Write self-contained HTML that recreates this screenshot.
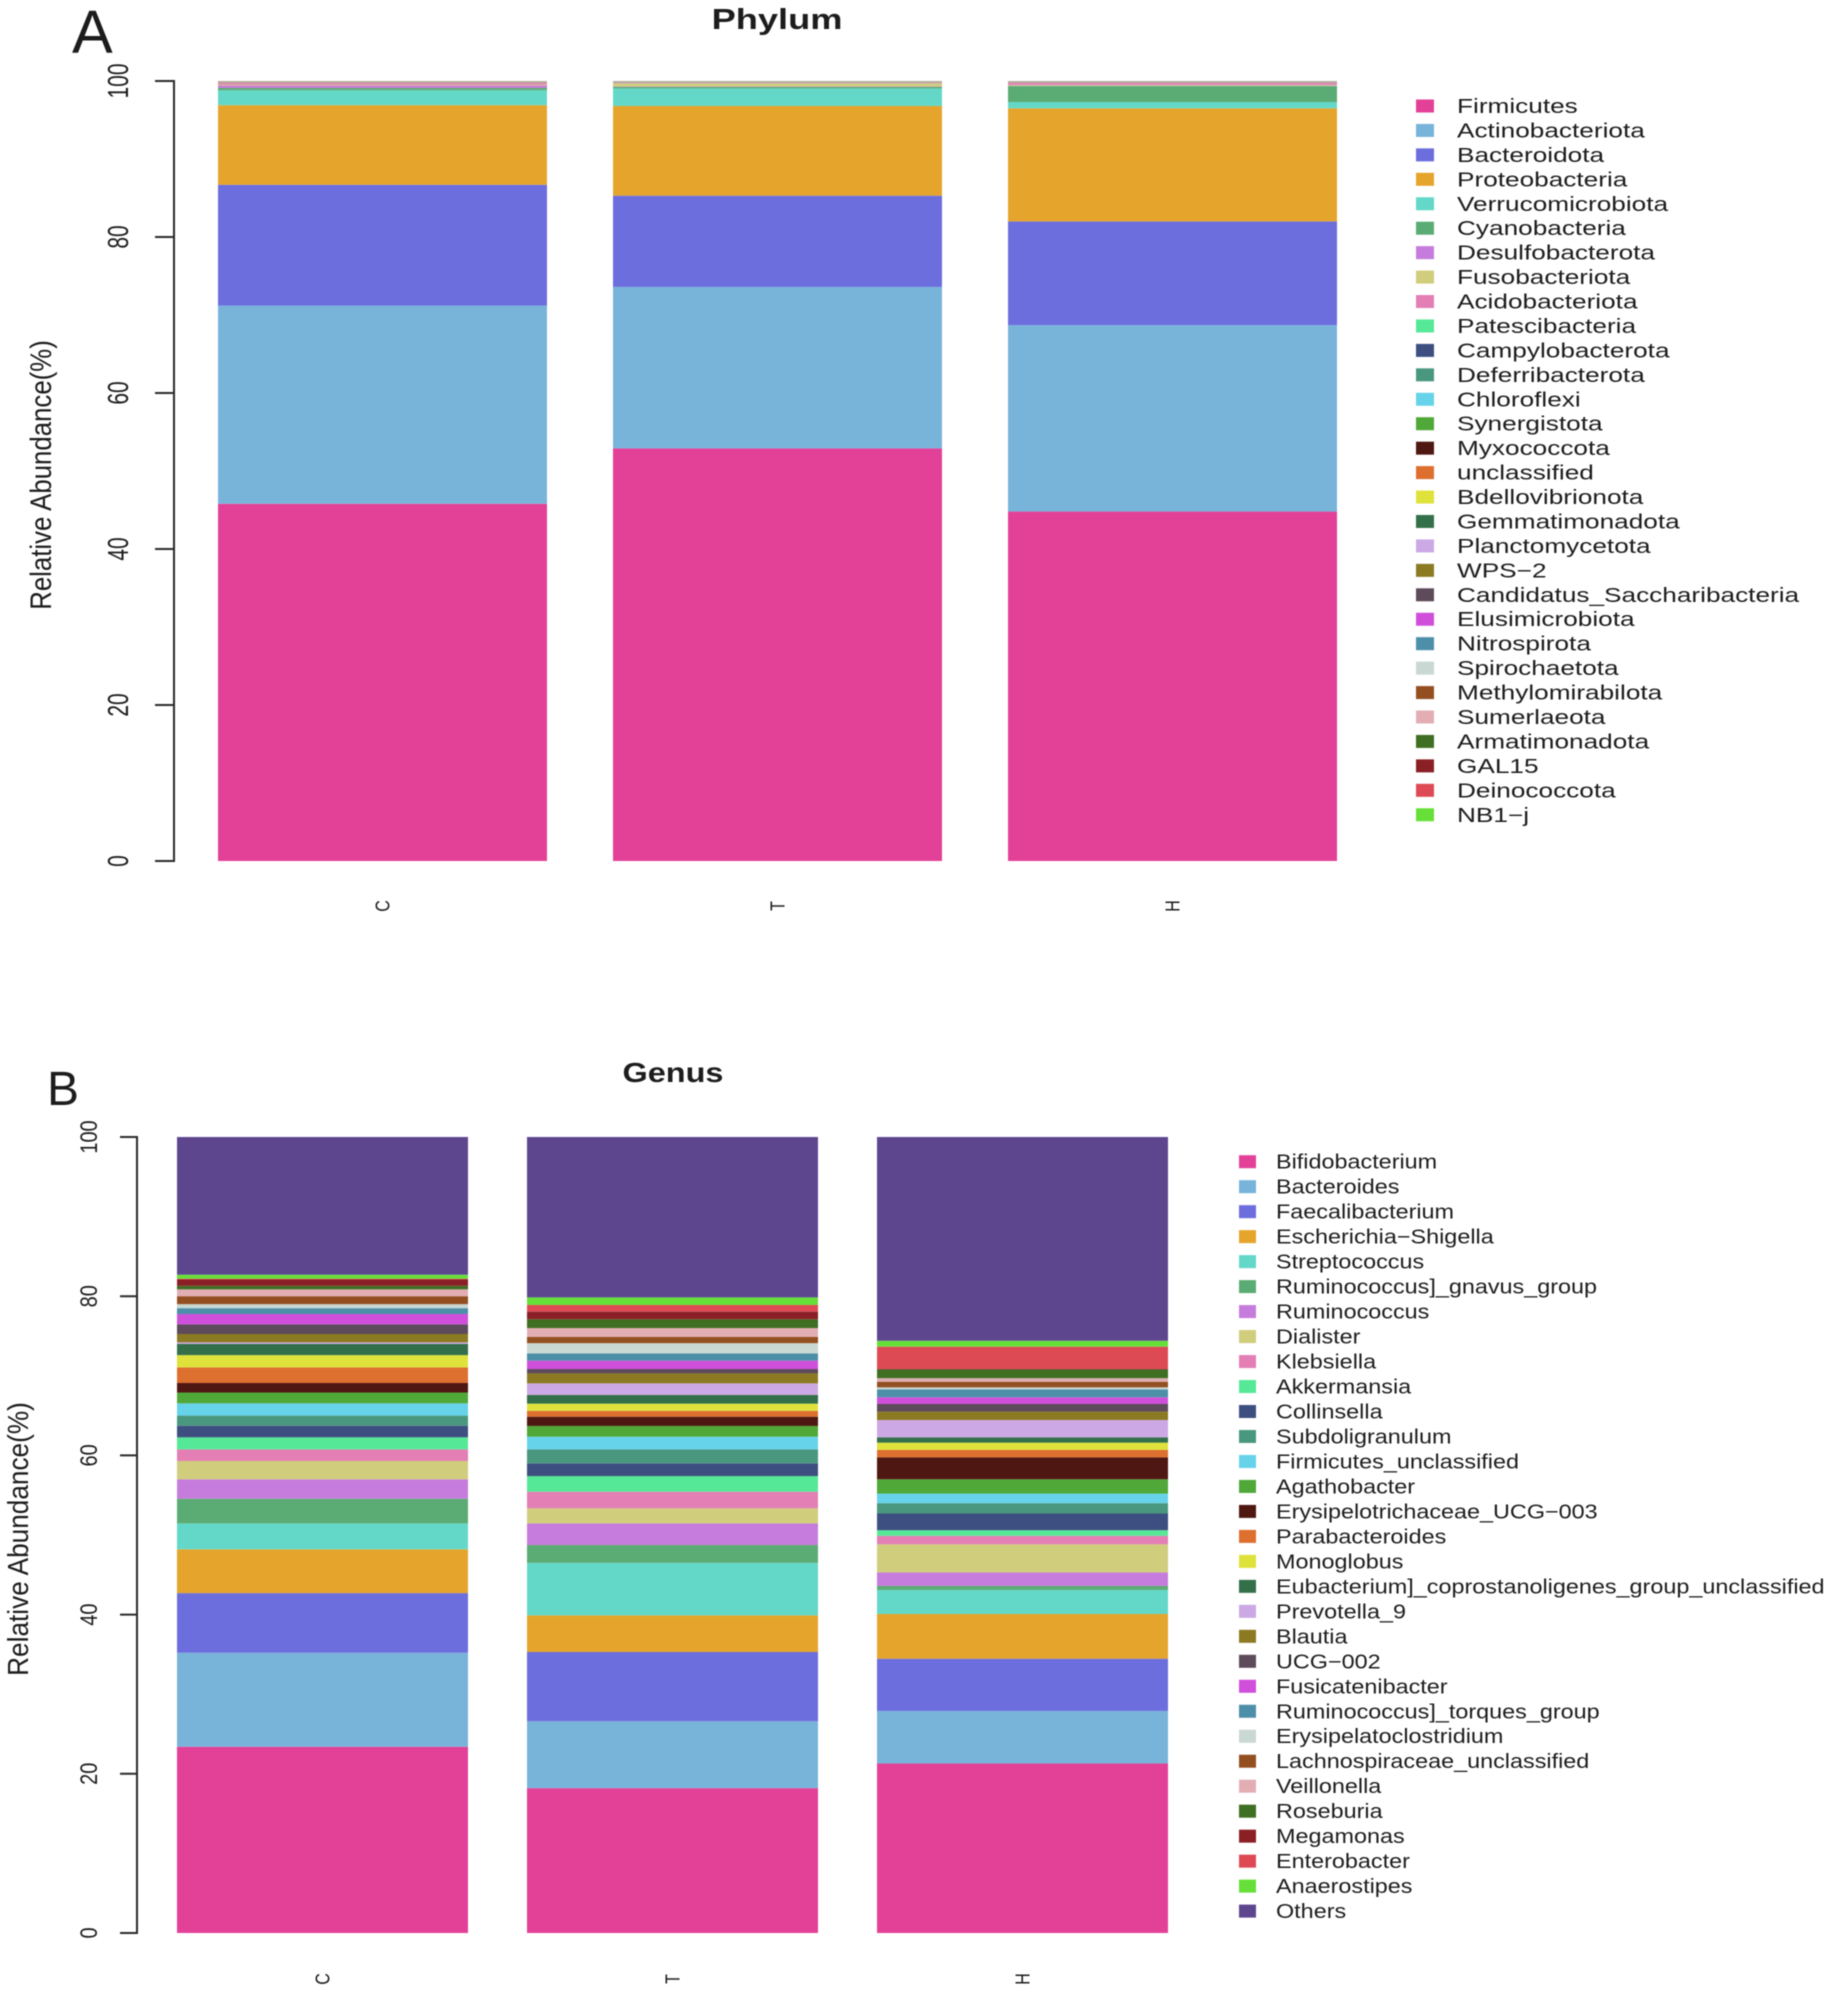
<!DOCTYPE html>
<html lang="en">
<head>
<meta charset="utf-8">
<title>Phylum and Genus relative abundance</title>
<style>
html,body{margin:0;padding:0;background:#fff;width:1831px;height:1991px;overflow:hidden}
svg{display:block;filter:blur(0.6px)}
text{font-family:"Liberation Sans",sans-serif;fill:#1c1c1c}
</style>
</head>
<body>
<svg id="chart" xmlns="http://www.w3.org/2000/svg" width="1831" height="1991" viewBox="0 0 1831 1991">
  <rect x="0" y="0" width="1831" height="1991" fill="#ffffff"/>
  <text x="72" y="53" font-size="61">A</text>
  <text x="47" y="1105" font-size="48">B</text>
  <text transform="translate(777,29) scale(1.25,1)" text-anchor="middle" font-size="29" font-weight="bold">Phylum</text>
  <text transform="translate(673,1082) scale(1.18,1)" text-anchor="middle" font-size="27.5" font-weight="bold">Genus</text>
  <text transform="translate(51,475) rotate(-90) scale(1,1.15)" text-anchor="middle" font-size="25.8">Relative Abundance(%)</text>
  <text transform="translate(28,1539) rotate(-90) scale(1,1.1)" text-anchor="middle" font-size="26.2">Relative Abundance(%)</text>
  <g id="panel-a"></g>
  <g id="panel-b"></g>
</svg>
<script>
const categories = ["C", "T", "H"];
const yTicks = [0, 20, 40, 60, 80, 100];
const palette = ["#e34198","#78b4da","#6d6edd","#e5a52c","#64d8c8","#5bac74","#c67cdc","#d0cd7c","#e37fb5","#55e896","#3d4f80","#4a9780","#66d3ea","#4fa838","#4f1712","#dd6f2f","#dfe23a","#33704a","#cca9e4","#8c7a22","#5d4a5a","#cf4fdb","#4d8fa8","#c9d8d2","#944f21","#e2aeb4","#3f6f22","#8a2026","#dd4a54","#66e038","#5e468f"];

const phylumNames = ["Firmicutes","Actinobacteriota","Bacteroidota","Proteobacteria","Verrucomicrobiota","Cyanobacteria","Desulfobacterota","Fusobacteriota","Acidobacteriota","Patescibacteria","Campylobacterota","Deferribacterota","Chloroflexi","Synergistota","Myxococcota","unclassified","Bdellovibrionota","Gemmatimonadota","Planctomycetota","WPS\u22122","Candidatus_Saccharibacteria","Elusimicrobiota","Nitrospirota","Spirochaetota","Methylomirabilota","Sumerlaeota","Armatimonadota","GAL15","Deinococcota","NB1\u2212j"];
const phylumC = [45.8,25.4,15.5,10.2,1.9,0.3,0.32,0.12,0.25,0.01,0.01,0.01,0.01,0.01,0.01,0.01,0.01,0.01,0.01,0.01,0.01,0.01,0.01,0.01,0.01,0.01,0.01,0.01,0.01,0.01];
const phylumT = [52.9,20.7,11.7,11.5,2.25,0.2,0.05,0.4,0.09,0.01,0.01,0.01,0.01,0.01,0.01,0.01,0.01,0.01,0.01,0.01,0.01,0.01,0.01,0.01,0.01,0.01,0.01,0.01,0.01,0.01];
const phylumH = [44.8,23.9,13.3,14.5,0.8,2.05,0.05,0.1,0.29,0.01,0.01,0.01,0.01,0.01,0.01,0.01,0.01,0.01,0.01,0.01,0.01,0.01,0.01,0.01,0.01,0.01,0.01,0.01,0.01,0.01];

const genusNames = ["Bifidobacterium","Bacteroides","Faecalibacterium","Escherichia\u2212Shigella","Streptococcus","Ruminococcus]_gnavus_group","Ruminococcus","Dialister","Klebsiella","Akkermansia","Collinsella","Subdoligranulum","Firmicutes_unclassified","Agathobacter","Erysipelotrichaceae_UCG\u2212003","Parabacteroides","Monoglobus","Eubacterium]_coprostanoligenes_group_unclassified","Prevotella_9","Blautia","UCG\u2212002","Fusicatenibacter","Ruminococcus]_torques_group","Erysipelatoclostridium","Lachnospiraceae_unclassified","Veillonella","Roseburia","Megamonas","Enterobacter","Anaerostipes","Others"];
const genusC = [23.4,11.8,7.5,5.5,3.26,3.1,2.44,2.3,1.46,1.51,1.46,1.27,1.54,1.36,1.2,1.96,1.54,1.4,0.2,1.05,1.21,1.3,0.74,0.5,1.0,0.86,0.44,0.8,0.1,0.5,17.3];
const genusT = [18.2,8.4,8.7,4.6,6.6,2.24,2.72,1.89,2.09,1.96,1.6,1.76,1.59,1.35,1.16,0.74,0.9,1.1,1.45,1.25,0.55,1.05,0.9,1.3,0.8,1.1,1.1,0.96,0.84,0.95,20.15];
const genusH = [21.3,6.6,6.56,5.62,3.02,0.5,1.7,3.53,1.07,0.7,2.1,1.3,1.2,1.8,2.75,0.95,0.9,0.67,2.18,1.05,0.96,0.84,1.0,0.25,0.71,0.44,1.1,0.05,2.81,0.74,25.6];

const SVG_NS = "http://www.w3.org/2000/svg";

function slug(s) {
  return s.toLowerCase().replace(/[^a-z0-9]+/g, "-").replace(/^-|-$/g, "");
}

function makeEl(tag, parent) {
  const el = document.createElementNS(SVG_NS, tag);
  parent.appendChild(el);
  return el;
}

function drawPanel(cfg) {
  const root = document.getElementById(cfg.id);
  const yScale = function (v) { return cfg.y0 + (cfg.y100 - cfg.y0) * v / 100; };
  const xScale = function (i) { return cfg.barStart + i * cfg.barStep; };

  const axis = makeEl("line", root);
  
  
  axis.setAttribute("x1", cfg.axisX);
  axis.setAttribute("x2", cfg.axisX);
  axis.setAttribute("y1", yScale(100) - 1);
  axis.setAttribute("y2", yScale(0) + 1);
  axis.setAttribute("stroke", "#2a2a2a");
  axis.setAttribute("stroke-width", 2);

  yTicks.forEach(function (t) {
    const tick = makeEl("line", root);
    
    
    tick.setAttribute("x1", cfg.tickX);
    tick.setAttribute("x2", cfg.axisX);
    tick.setAttribute("y1", yScale(t));
    tick.setAttribute("y2", yScale(t));
    tick.setAttribute("stroke", "#2a2a2a");
    tick.setAttribute("stroke-width", 2);

    const label = makeEl("text", root);
    
    
    label.setAttribute("transform", "translate(" + cfg.tickLabelX + "," + yScale(t) + ") rotate(-90) scale(1," + cfg.tickScale + ")");
    label.setAttribute("text-anchor", "middle");
    label.setAttribute("font-size", cfg.tickFont);
    label.textContent = String(t);
  });

  cfg.series.forEach(function (values, i) {
    const group = makeEl("g", root);
    
    
    let cum = 0;
    values.forEach(function (v, k) {
      const top = yScale(cum + v);
      const seg = makeEl("rect", group);
      
      
      seg.setAttribute("x", xScale(i));
      seg.setAttribute("width", cfg.barWidth);
      seg.setAttribute("y", top);
      seg.setAttribute("height", yScale(cum) - top);
      seg.setAttribute("fill", palette[k]);
      cum += v;
    });

    const cat = makeEl("text", root);
    
    
    cat.setAttribute("transform", "translate(" + (xScale(i) + cfg.barWidth / 2 + 7) + "," + cfg.catY + ") rotate(-90) scale(1,1.25)");
    cat.setAttribute("text-anchor", "middle");
    cat.setAttribute("font-size", 16);
    cat.textContent = categories[i];
  });

  const legend = makeEl("g", root);
  
  
  cfg.names.forEach(function (name, k) {
    const cy = cfg.legendY + k * cfg.legendStep;
    const entry = makeEl("g", legend);
    
    

    const swatch = makeEl("rect", entry);
    
    
    swatch.setAttribute("x", cfg.swatchX);
    swatch.setAttribute("y", cy - 6.5);
    swatch.setAttribute("width", cfg.swatchW);
    swatch.setAttribute("height", 13);
    swatch.setAttribute("fill", palette[k]);

    const txt = makeEl("text", entry);
    
    
    txt.setAttribute("transform", "translate(" + cfg.legendTextX + "," + (cy + 7) + ") scale(" + cfg.legendScale + ",1)");
    txt.setAttribute("font-size", 20);
    txt.textContent = name;
  });
}

drawPanel({
  id: "panel-a", names: phylumNames, series: [phylumC, phylumT, phylumH],
  y0: 861, y100: 81, axisX: 174, tickX: 155, tickLabelX: 128, tickFont: 21, tickScale: 1.35,
  barStart: 218, barStep: 395, barWidth: 329, catY: 906,
  legendY: 106, legendStep: 24.44, swatchX: 1416, swatchW: 18, legendTextX: 1457, legendScale: 1.31
});
drawPanel({
  id: "panel-b", names: genusNames, series: [genusC, genusT, genusH],
  y0: 1933, y100: 1137, axisX: 137, tickX: 120, tickLabelX: 97, tickFont: 20, tickScale: 1.2,
  barStart: 177, barStep: 350, barWidth: 291, catY: 1979,
  legendY: 1161.7, legendStep: 24.98, swatchX: 1239, swatchW: 17, legendTextX: 1276, legendScale: 1.17
});
</script>
</body>
</html>
